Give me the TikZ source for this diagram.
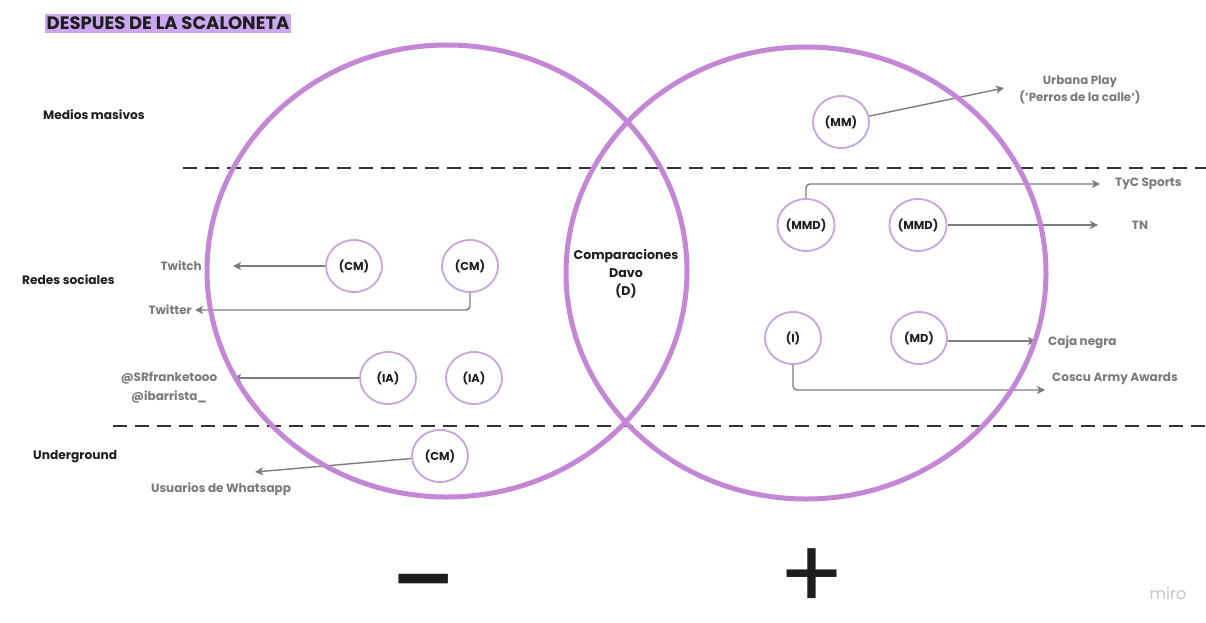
\documentclass[tikz,border=0pt]{standalone}
\usepackage{fontspec}
\setmainfont{Poppins}
\usetikzlibrary{arrows.meta,shapes.geometric}
\definecolor{venn}{HTML}{C487D6}
\definecolor{nodeline}{HTML}{C9A5DF}
\definecolor{hl}{HTML}{CBA8F0}
\definecolor{lbl}{HTML}{7A7A7A}
\definecolor{ink}{HTML}{1E1E1E}
\definecolor{arrowc}{HTML}{7D7D7D}
\definecolor{dashc}{HTML}{333333}
\begin{document}
\begin{tikzpicture}[x=1pt,y=-1pt,
  cat/.style={font=\bfseries\fontsize{12.2}{14}\selectfont, text=ink, anchor=west, inner sep=0},
  lab/.style={font=\bfseries\fontsize{12}{14}\selectfont, text=lbl, inner sep=0},
  ent/.style={ellipse, draw=nodeline, line width=1.8pt, minimum width=56pt, minimum height=52pt, inner sep=0, font=\bfseries\fontsize{11.5}{13}\selectfont, text=ink, fill=white},
  arr/.style={draw=arrowc, line width=1.4pt, -{Stealth[length=8pt,width=8pt,inset=2pt]}, rounded corners=4pt},
  sep/.style={draw=dashc, line width=1.8pt, dash pattern=on 14pt off 8pt},
  venncirc/.style={draw=venn, line width=5pt},
  sign/.style={text=ink, inner sep=0, anchor=base, text height=0.5em, text depth=0pt}]
\useasboundingbox[fill=white] (0,0) rectangle (1206,623);

% title
\node[fill=hl, inner xsep=1.5pt, inner ysep=1.5pt, text height=14.5pt, text depth=2pt, anchor=base west, font=\bfseries\fontsize{18}{20}\selectfont, text=ink] (title) at (45,30) {DESPUES DE LA SCALONETA};

% categories
\node[cat] (medios) at (43,115) {Medios masivos};
\node[cat] (redes) at (22,280) {Redes sociales};
\node[cat] (under) at (33,457) {Underground};

% separators
\coordinate (d1a) at (183,168);
\coordinate (d1b) at (1206,168);
\coordinate (d2a) at (113,426);
\coordinate (d2b) at (1206,426);
\draw[sep] (d1a) -- (d1b);
\draw[sep] (d2a) -- (d2b);

% entity nodes
\node[ent] (cm1) at (354,266) {(CM)};
\node[ent] (cm2) at (470,266) {(CM)};
\node[ent] (ia1) at (388,378) {(IA)};
\node[ent] (ia2) at (474,378) {(IA)};
\node[ent] (cm3) at (440,456) {(CM)};
\node[ent] (mm) at (841,122) {(MM)};
\node[ent] (mmd1) at (806,225) {(MMD)};
\node[ent] (mmd2) at (918,225) {(MMD)};
\node[ent] (inode) at (793,338) {(I)};
\node[ent] (md) at (919,338) {(MD)};

\node[font=\bfseries\fontsize{12.6}{18}\selectfont, text=ink, align=center] (davo) at (626,274) {Comparaciones\\Davo\\(D)};

% target labels
\node[lab, anchor=east] (twitch) at (202,266) {Twitch};
\node[lab, anchor=east] (twitter) at (192,310) {Twitter};
\node[lab] (sr) at (169,378) {@SRfranketooo};
\node[lab] (ib) at (169,397) {@ibarrista\_};
\node[lab] (wa) at (221,489) {Usuarios de Whatsapp};
\node[lab, align=center, font=\bfseries\fontsize{11.8}{17}\selectfont] (urb) at (1080,90) {Urbana Play\\('Perros de la calle')};
\node[lab, anchor=west] (tyc) at (1115,184) {TyC Sports};
\node[lab] (tn) at (1140,225) {TN};
\node[lab, anchor=west] (caja) at (1048,342) {Caja negra};
\node[lab, anchor=west] (coscu) at (1052,379) {Coscu Army Awards};

% arrow ends
\coordinate (twa) at (233,266);
\coordinate (twr) at (195,310);
\coordinate (sra) at (233,378);
\coordinate (waa) at (255,472);
\coordinate (urba) at (1004,88);
\coordinate (tyca) at (1100,184);
\coordinate (tna) at (1098,225);
\coordinate (cajaa) at (1036,341);
\coordinate (cosa) at (1045,390);

\draw[arr] (cm1.west) -- (twa);
\draw[arr] (cm2.south) |- (twr);
\draw[arr] (ia1.west) -- (sra);
\draw[arr] (cm3) -- (waa);
\draw[arr] (mm) -- (urba);
\draw[arr] (mmd1.north) |- (tyca);
\draw[arr] (mmd2.east) -- (tna);
\draw[arr] (md.east |- cajaa) -- (cajaa);
\draw[arr] (inode.south) |- (cosa);

% venn circles
\draw[venncirc] (447,271) ellipse [x radius=240, y radius=226];
\draw[venncirc] (806,273) ellipse [x radius=240, y radius=226];

% signs
\node[sign, font=\fontsize{124}{124}\selectfont] (minus) at (424,624) {−};
\node[sign, font=\fontsize{98}{98}\selectfont] (plus) at (812,609) {+};

\node[font=\fontsize{16}{18}\selectfont, text=black!22, inner sep=0] (miro) at (1168,593) {miro};
\end{tikzpicture}
\end{document}
